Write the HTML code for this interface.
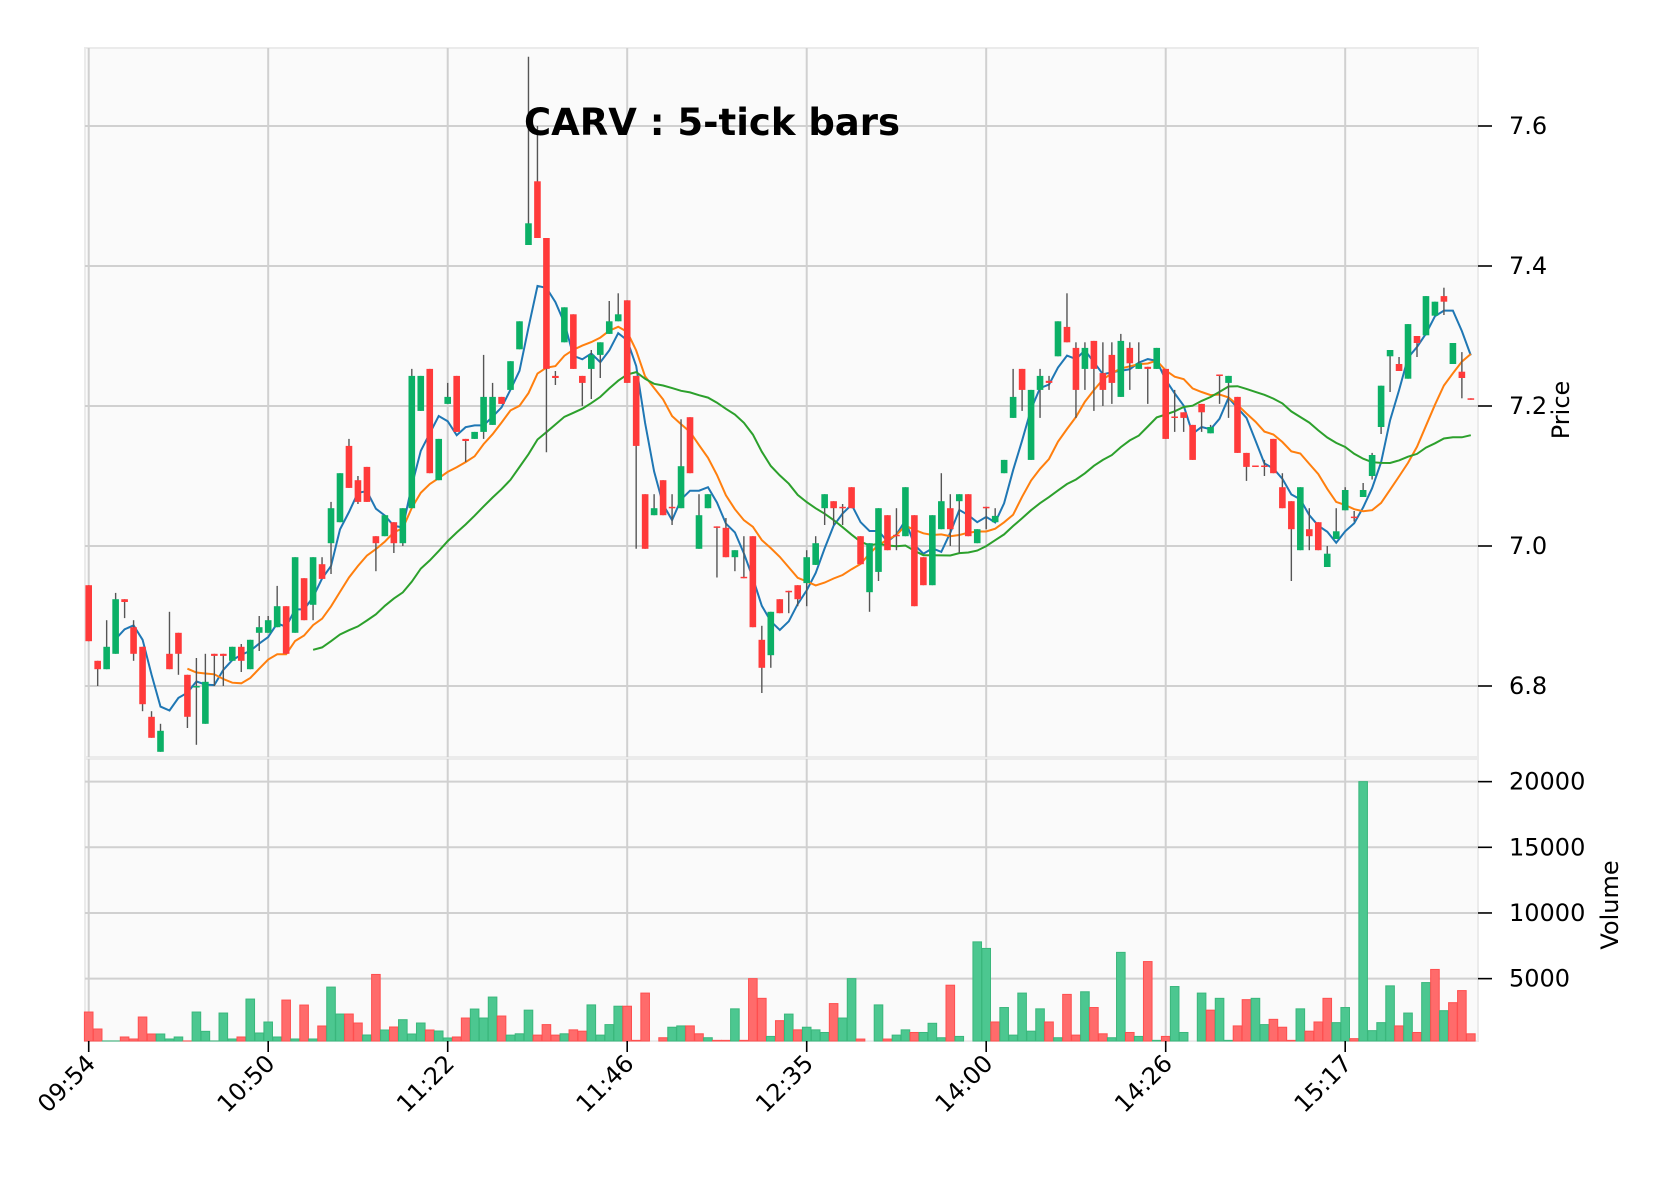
<!DOCTYPE html>
<html><head><meta charset="utf-8"><title>CARV : 5-tick bars</title>
<style>html,body{margin:0;padding:0;background:#fff}svg{display:block}text{font-family:"DejaVu Sans","Liberation Sans",sans-serif}</style>
</head><body>
<svg id="chart" width="1670" height="1188" viewBox="0 0 1670 1188" xmlns="http://www.w3.org/2000/svg">
<rect x="85" y="48" width="1393" height="709" fill="#fafafa" stroke="#ebebeb" stroke-width="2"/>
<rect x="85" y="759" width="1393" height="282" fill="#fafafa" stroke="#ebebeb" stroke-width="2"/>
<g id="grid"></g><g id="vol"></g><g id="ma"></g><g id="candles"></g><g id="axes"></g>
<text x="712" y="135" text-anchor="middle" font-size="37" font-weight="bold" fill="#000">CARV : 5-tick bars</text>
<text transform="translate(1569,410) rotate(-90)" text-anchor="middle" font-size="24" fill="#000">Price</text>
<text transform="translate(1618,905) rotate(-90)" text-anchor="middle" font-size="24" fill="#000">Volume</text>
</svg>
<script>
const opens=[6.944,6.836,6.824,6.846,6.924,6.884,6.856,6.756,6.706,6.846,6.876,6.816,6.800,6.746,6.846,6.846,6.836,6.856,6.824,6.876,6.876,6.884,6.914,6.876,6.954,6.916,6.974,7.004,7.034,7.143,7.094,7.113,7.014,7.014,7.034,7.004,7.054,7.193,7.253,7.094,7.203,7.243,7.153,7.153,7.163,7.173,7.213,7.223,7.281,7.430,7.521,7.440,7.243,7.291,7.331,7.243,7.253,7.273,7.303,7.321,7.351,7.243,7.074,7.044,7.094,7.056,7.054,7.184,6.996,7.054,7.028,7.026,6.984,6.956,7.014,6.866,6.844,6.924,6.936,6.944,6.947,6.973,7.054,7.064,7.056,7.084,7.014,6.934,6.963,7.044,7.016,7.014,7.044,6.984,6.944,7.024,7.054,7.064,7.074,7.004,7.056,7.034,7.104,7.183,7.253,7.123,7.223,7.236,7.271,7.313,7.283,7.253,7.293,7.247,7.273,7.213,7.283,7.253,7.256,7.253,7.253,7.185,7.191,7.173,7.203,7.161,7.245,7.233,7.213,7.133,7.115,7.115,7.153,7.084,7.064,6.994,7.024,7.034,6.970,7.010,7.051,7.042,7.070,7.100,7.170,7.271,7.260,7.239,7.300,7.301,7.329,7.357,7.260,7.249,7.211];
const highs=[6.944,6.836,6.894,6.933,6.924,6.894,6.856,6.764,6.746,6.906,6.876,6.816,6.840,6.846,6.846,6.846,6.856,6.860,6.866,6.900,6.900,6.943,6.914,6.984,6.954,6.984,6.984,7.063,7.104,7.153,7.100,7.113,7.014,7.044,7.034,7.054,7.253,7.243,7.253,7.153,7.233,7.243,7.153,7.163,7.273,7.233,7.213,7.264,7.321,7.699,7.600,7.440,7.250,7.341,7.331,7.243,7.280,7.291,7.350,7.361,7.351,7.243,7.074,7.074,7.094,7.074,7.181,7.184,7.074,7.074,7.028,7.040,6.994,7.014,7.014,6.886,6.906,6.924,6.936,6.944,6.994,7.014,7.074,7.064,7.060,7.084,7.014,7.004,7.054,7.044,7.054,7.084,7.044,6.984,7.044,7.104,7.074,7.074,7.074,7.024,7.056,7.054,7.123,7.253,7.253,7.223,7.253,7.243,7.321,7.361,7.291,7.291,7.293,7.291,7.291,7.303,7.291,7.291,7.256,7.283,7.253,7.223,7.191,7.173,7.203,7.173,7.245,7.243,7.213,7.133,7.115,7.123,7.153,7.104,7.064,7.084,7.054,7.034,7.000,7.054,7.084,7.050,7.090,7.133,7.229,7.280,7.270,7.317,7.300,7.357,7.349,7.369,7.290,7.277,7.211];
const lows=[6.864,6.800,6.824,6.846,6.897,6.836,6.764,6.726,6.706,6.824,6.816,6.740,6.716,6.746,6.800,6.800,6.836,6.820,6.824,6.850,6.876,6.884,6.846,6.876,6.894,6.894,6.953,6.960,7.034,7.083,7.060,7.063,6.964,7.014,6.990,7.000,7.054,7.193,7.104,7.094,7.203,7.163,7.120,7.153,7.153,7.173,7.203,7.223,7.281,7.430,7.440,7.134,7.230,7.291,7.253,7.200,7.210,7.240,7.303,7.321,7.233,6.996,6.996,7.044,7.044,7.030,7.054,7.104,6.996,7.054,6.955,6.984,6.964,6.954,6.884,6.790,6.826,6.904,6.904,6.914,6.914,6.973,7.030,7.030,7.030,7.054,6.974,6.906,6.950,6.994,6.994,7.014,6.914,6.944,6.944,7.024,7.000,6.990,7.014,7.004,7.024,7.034,7.104,7.183,7.193,7.123,7.183,7.223,7.271,7.291,7.183,7.223,7.193,7.200,7.203,7.213,7.223,7.253,7.203,7.253,7.153,7.163,7.163,7.123,7.163,7.161,7.203,7.183,7.133,7.093,7.113,7.100,7.104,7.054,6.950,6.994,6.994,6.994,6.970,7.010,7.051,7.035,7.070,7.095,7.160,7.220,7.250,7.239,7.270,7.301,7.329,7.330,7.260,7.211,7.209];
const closes=[6.864,6.824,6.856,6.924,6.920,6.846,6.774,6.726,6.736,6.824,6.846,6.756,6.800,6.806,6.843,6.843,6.856,6.836,6.866,6.884,6.894,6.914,6.846,6.984,6.894,6.984,6.953,7.054,7.104,7.083,7.063,7.063,7.004,7.044,7.004,7.054,7.243,7.243,7.104,7.153,7.213,7.163,7.150,7.163,7.213,7.213,7.203,7.264,7.321,7.461,7.440,7.253,7.240,7.341,7.253,7.233,7.273,7.291,7.321,7.331,7.233,7.143,6.996,7.054,7.044,7.054,7.114,7.104,7.044,7.074,7.026,6.984,6.994,6.954,6.884,6.826,6.906,6.904,6.934,6.924,6.984,7.004,7.074,7.054,7.054,7.054,6.974,7.004,7.054,6.994,7.014,7.084,6.914,6.944,7.044,7.064,7.024,7.074,7.014,7.024,7.054,7.043,7.123,7.213,7.223,7.223,7.243,7.233,7.321,7.291,7.223,7.283,7.253,7.223,7.233,7.293,7.261,7.261,7.253,7.283,7.153,7.183,7.183,7.123,7.191,7.170,7.243,7.243,7.133,7.113,7.113,7.113,7.104,7.054,7.024,7.084,7.014,6.994,6.989,7.021,7.080,7.040,7.080,7.130,7.229,7.280,7.250,7.317,7.290,7.357,7.349,7.349,7.290,7.240,7.210];
const volumes=[2457,1165,253,253,557,405,2077,785,785,405,557,253,2457,988,253,2381,405,557,3445,861,1697,557,3369,405,2989,405,1393,4357,2305,2305,1621,709,5319,1089,1317,1874,785,1621,1089,1013,481,557,2001,2685,2001,3597,2153,
700,800,2600,700,1500,700,800,1100,1000,3000,700,1500,2900,2900,300,3900,200,500,1300,1400,1400,800,500,300,300,2700,300,5000,3500,600,1800,2300,1100,1300,1100,900,3100,2000,5000,400,200,3000,400,700,1100,900,900,1600,500,4500,600,200,7800,7300,1700,2800,700,3900,1000,2700,1700,500,3800,700,4000,2800,800,500,7000,900,600,6300,300,600,4400,900,200,3900,2600,3500,300,1400,3400,3500,1500,1900,1300,300,2700,
1000,1700,3500,1650,2800,430,20000,1040,1650,4450,1400,2380,900,4700,5700,2560,3170,4090,800];
const priceTicks=[6.8,7.0,7.2,7.4,7.6];
const priceTickLabels=["6.8","7.0","7.2","7.4","7.6"];
const volTicks=[5000,10000,15000,20000];
const volTickLabels=["5000","10000","15000","20000"];
const timeTickIdx=[0,20,40,60,80,100,120,140];
const timeTickLabels=["09:54","10:50","11:22","11:46","12:35","14:00","14:26","15:17"];
const maWindows=[4,12,26];
const maColors=["#1f77b4","#ff7f0e","#2ca02c"];

const NS="http://www.w3.org/2000/svg";
const X0=88.7, DX=8.975;
const xOf=i=>X0+DX*i;
const yP=p=>546-(p-7.0)*700;
const yV=v=>1044.3-v*0.013133;
function mk(tag,attrs,parent){const e=document.createElementNS(NS,tag);for(const k in attrs)e.setAttribute(k,attrs[k]);parent.appendChild(e);return e;}
const grid=document.getElementById('grid'),vol=document.getElementById('vol'),ma=document.getElementById('ma'),cg=document.getElementById('candles'),ax=document.getElementById('axes');
priceTicks.forEach((p,k)=>{const l=mk('line',{x1:85,x2:1478,y1:yP(p),y2:yP(p),stroke:'#d0d0d0','stroke-width':2},grid);


mk('line',{x1:1478,x2:1492,y1:yP(p),y2:yP(p),stroke:'#000','stroke-width':1.6},ax);
const t=mk('text',{x:1509,y:yP(p)+8,'font-size':24,fill:'#000'},ax);t.textContent=priceTickLabels[k];

});
volTicks.forEach((v,k)=>{const l=mk('line',{x1:85,x2:1478,y1:yV(v),y2:yV(v),stroke:'#d0d0d0','stroke-width':2},grid);


mk('line',{x1:1478,x2:1492,y1:yV(v),y2:yV(v),stroke:'#000','stroke-width':1.6},ax);
const t=mk('text',{x:1509,y:yV(v)+8,'font-size':24,fill:'#000'},ax);t.textContent=volTickLabels[k];

});
timeTickIdx.forEach((i,k)=>{const x=xOf(i);
const l1=mk('line',{x1:x,x2:x,y1:48,y2:757,stroke:'#d0d0d0','stroke-width':2},grid);


mk('line',{x1:x,x2:x,y1:759,y2:1041,stroke:'#d0d0d0','stroke-width':2},grid);
mk('line',{x1:x,x2:x,y1:1041,y2:1052,stroke:'#000','stroke-width':1.6},ax);
const t=mk('text',{transform:`translate(${x+8},${1065}) rotate(-45)`,'text-anchor':'end','font-size':24,fill:'#000'},ax);t.textContent=timeTickLabels[k];

});
volumes.forEach((v,i)=>{const prev=i>0?closes[i-1]:opens[i];const up=closes[i]>=prev;const y=Math.max(yV(v),760);
const r=mk('rect',{x:xOf(i)-4.3,y:y,width:8.6,height:1041-y,fill:up?'#4cc790':'#ff6b6b',stroke:up?'#3ab77c':'#ff4f4f','stroke-width':1},vol);

});
maWindows.forEach((w,k)=>{let pts=[];for(let i=w-1;i<closes.length;i++){let s=0;for(let j=i-w+1;j<=i;j++)s+=closes[j];pts.push(xOf(i).toFixed(1)+','+yP(s/w).toFixed(1));}
const pl=mk('polyline',{points:pts.join(' '),fill:'none',stroke:maColors[k],'stroke-width':2},ma);

});
opens.forEach((o,i)=>{const c=closes[i],up=c>=o,x=xOf(i);const col=up?'#0bb066':'#ff3a3a';
const w=mk('line',{x1:x,x2:x,y1:yP(highs[i]),y2:yP(lows[i]),stroke:'#555','stroke-width':1.4},cg);


const top=yP(Math.max(o,c)),h=Math.max(Math.abs(yP(o)-yP(c)),1.5);
const b=mk('rect',{x:x-3.3,y:top,width:6.6,height:h,fill:col},cg);

});
</script>
</body></html>
